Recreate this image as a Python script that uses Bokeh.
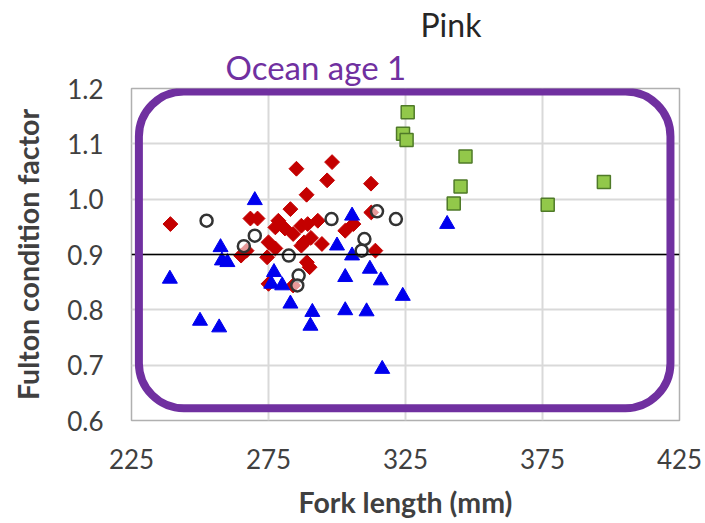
import numpy as np
from bokeh.plotting import figure
from bokeh.models import (FixedTicker, Span, Title, BoxAnnotation, Range1d)
from bokeh.embed import file_html
from bokeh.resources import INLINE

# ---- data ----
red_x = [239.2, 285.2, 298.2, 296.4, 312.4, 288.9, 283.0, 268.4, 271.0, 278.6,
         277.5, 281.0, 284.0, 287.0, 288.0, 290.5, 275.0, 277.5, 267.0, 265.0,
         274.5, 289.0, 290.0, 275.0, 284.0, 289.3, 293.0, 312.5, 306.0, 303.0,
         294.5, 314.0, 287.0]
red_y = [0.955, 1.055, 1.067, 1.034, 1.028, 1.008, 0.982, 0.965, 0.965, 0.961,
         0.949, 0.947, 0.937, 0.952, 0.922, 0.930, 0.922, 0.911, 0.907, 0.898,
         0.895, 0.886, 0.877, 0.847, 0.844, 0.955, 0.961, 0.976, 0.955, 0.943,
         0.919, 0.907, 0.916]

blue_x = [239.0, 250.0, 257.0, 257.5, 258.0, 260.0, 270.0, 277.0, 276.0, 280.0,
          283.0, 290.3, 291.0, 303.0, 310.8, 303.0, 312.0, 316.0, 305.5, 300.0,
          305.5, 316.5, 324.0, 340.2]
blue_y = [0.856, 0.780, 0.768, 0.913, 0.889, 0.886, 0.998, 0.868, 0.847, 0.844,
          0.811, 0.771, 0.796, 0.799, 0.797, 0.859, 0.874, 0.853, 0.898, 0.916,
          0.970, 0.693, 0.825, 0.955]

circ_x = [252.4, 270.0, 266.0, 282.4, 286.0, 285.5, 298.0, 314.6, 321.5, 310.0, 309.0]
circ_y = [0.961, 0.934, 0.915, 0.898, 0.862, 0.844, 0.964, 0.978, 0.964, 0.928, 0.907]

green_x = [325.8, 324.1, 325.4, 346.9, 345.1, 342.6, 376.9, 397.4]
green_y = [1.157, 1.118, 1.107, 1.077, 1.023, 0.992, 0.990, 1.031]

x_ticks = [225, 275, 325, 375, 425]
y_ticks = [0.6, 0.7, 0.8, 0.9, 1.0, 1.1, 1.2]
y_tick_labels = ["0.6", "0.7", "0.8", "0.9", "1.0", "1.1", "1.2"]

title_text = "Pink"
subtitle_text = "Ocean age 1"
x_label = "Fork length (mm)"
y_label = "Fulton condition factor"
reference_level = 0.9

FONT = "Lato"

p = figure(frame_width=548, frame_height=332, output_backend="svg", toolbar_location=None,
           x_range=Range1d(225, 425), y_range=Range1d(0.6, 1.2),
           min_border_left=131, min_border_right=26, min_border_top=88, min_border_bottom=103)
p.background_fill_color = "white"
p.border_fill_color = "white"
p.outline_line_color = "#b0b0b0"
p.outline_line_width = 1.5

# axes
p.xaxis.ticker = FixedTicker(ticks=x_ticks)
p.yaxis.ticker = FixedTicker(ticks=y_ticks)
p.yaxis.major_label_overrides = {t: s for t, s in zip(y_ticks, y_tick_labels)}
for ax in (p.xaxis[0], p.yaxis[0]):
    ax.axis_line_color = None
    ax.major_tick_line_color = None
    ax.minor_tick_line_color = None
    ax.major_tick_in = 0
    ax.major_tick_out = 0
    ax.major_label_text_font = FONT
    ax.major_label_text_font_size = "26px"
    ax.major_label_text_color = "#404040"
    ax.axis_label_text_font = FONT
    ax.axis_label_text_font_style = "bold"
    ax.axis_label_text_font_size = "28.5px"
    ax.axis_label_text_color = "#404040"
p.xaxis.major_label_standoff = 28
p.yaxis.major_label_standoff = 28
p.xaxis.axis_label = x_label
p.yaxis.axis_label = y_label
p.xaxis.axis_label_standoff = 13
p.yaxis.axis_label_standoff = 19

p.xgrid.ticker = FixedTicker(ticks=x_ticks[1:-1])
p.ygrid.ticker = FixedTicker(ticks=y_ticks[1:-1])
p.xgrid.grid_line_color = "#d9d9d9"
p.ygrid.grid_line_color = "#d9d9d9"
p.xgrid.grid_line_width = 2
p.ygrid.grid_line_width = 2

# points
p.scatter(red_x, red_y, marker="square", angle=np.pi / 4, size=10.5,
          fill_color="#c40000", line_color="#c40000", line_width=1)
p.scatter(blue_x, blue_y, marker="triangle", size=15,
          fill_color="#0000ee", line_color="#0000ee", line_width=1)
p.scatter(circ_x, circ_y, marker="circle", size=12,
          fill_color="white", fill_alpha=0.6, line_color="#333333", line_width=2.5)
p.scatter(green_x, green_y, marker="square", size=13,
          fill_color="#92c84a", line_color="#4f7a28", line_width=1.5)

p.add_layout(Span(location=reference_level, dimension="width", line_color="black", line_width=1.5))

box = BoxAnnotation(left=227.7, right=421.7, top=1.1946, bottom=0.6222,
                    fill_alpha=0, line_color="#7030a0", line_alpha=1.0, line_width=8,
                    border_radius=45)
p.add_layout(box)

# titles above the frame (first added sits closest to the frame)
p.add_layout(Title(text=subtitle_text, align="left", offset=94, standoff=3,
                   text_font=FONT, text_font_size="33px", text_font_style="normal",
                   text_line_height=0.8, text_color="#7030a0"), "above")
p.add_layout(Title(text=title_text, align="left", offset=289, standoff=0,
                   text_font=FONT, text_font_size="32px", text_font_style="normal",
                   text_line_height=0.8, text_color="#262626"), "above")

open("out.html", "w").write(file_html(p, INLINE))
